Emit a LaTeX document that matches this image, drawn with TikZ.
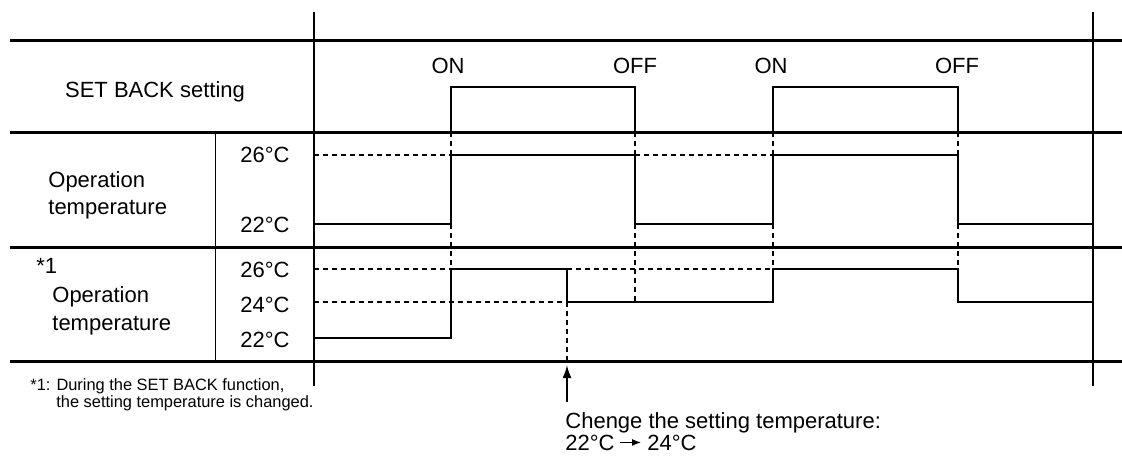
\documentclass[tikz,border=0pt]{standalone}
\usepackage{fontspec}
\setmainfont{Liberation Sans}
\usetikzlibrary{arrows.meta}
\tikzset{
  rowline/.style={line width=1.5pt},
  colline/.style={line width=1pt},
  sig/.style={line width=1pt},
  guide/.style={line width=1pt,dash pattern=on 2.5pt off 2pt},
  lbl/.style={inner sep=0pt,font=\fontsize{11}{13}\selectfont},
  note/.style={inner sep=0pt,font=\fontsize{8.2}{10}\selectfont},
}
\begin{document}
\begin{tikzpicture}[x=0.5pt,y=-0.5pt]
	\useasboundingbox (0,0) rectangle (1122,457);
	% table
	\draw[rowline] (10,40) -- (1122,40);
	\draw[rowline] (10,132) -- (1122,132);
	\draw[rowline] (10,247) -- (1122,247);
	\draw[rowline] (10,361) -- (1122,361);
	\draw[colline] (314,12) -- (314,386);
	\draw[colline] (1093,12) -- (1093,386);
	\draw[line width=0.5pt] (215,132) -- (215,361);
	% guides
	\draw[guide] (314,155) -- (451,155);
	\draw[guide] (635,155) -- (773,155);
	\draw[guide] (314,269) -- (451,269);
	\draw[guide] (567,269) -- (773,269);
	\draw[guide] (314,302) -- (567,302);
	\draw[guide] (451,132) -- (451,155) (451,224) -- (451,269);
	\draw[guide] (635,132) -- (635,155) (635,224) -- (635,302);
	\draw[guide] (773,132) -- (773,155) (773,224) -- (773,269);
	\draw[guide] (958,132) -- (958,155) (958,224) -- (958,269);
	\draw[guide] (567,302) -- (567,365);
	% signals
	\draw[sig] (451,132) -- (451,87) -- (635,87) -- (635,132);
	\draw[sig] (773,132) -- (773,87) -- (958,87) -- (958,132);
	\draw[sig] (314,224) -- (451,224) -- (451,155) -- (635,155) -- (635,224)
		-- (773,224) -- (773,155) -- (958,155) -- (958,224) -- (1093,224);
	\draw[sig] (314,338) -- (451,338) -- (451,269) -- (567,269) -- (567,302)
		-- (773,302) -- (773,269) -- (958,269) -- (958,302) -- (1093,302);
	% labels
	\node[lbl,anchor=base] (setback) at (155,97) {SET BACK setting};
	\node[lbl,anchor=base] (on1) at (448,73) {ON};
	\node[lbl,anchor=base] (off1) at (635,73) {OFF};
	\node[lbl,anchor=base] (on2) at (771,73) {ON};
	\node[lbl,anchor=base] (off2) at (957,73) {OFF};
	\node[lbl,anchor=base west] (opA) at (48,187) {Operation};
	\node[lbl,anchor=base west] (tempA) at (48,214) {temperature};
	\node[lbl,anchor=base] (hiA) at (265,162) {26°C};
	\node[lbl,anchor=base] (loA) at (265,232) {22°C};
	\node[lbl,anchor=base west] (star) at (36,273) {*1};
	\node[lbl,anchor=base west] (opB) at (52,302) {Operation};
	\node[lbl,anchor=base west] (tempB) at (52,330) {temperature};
	\node[lbl,anchor=base] (hiB) at (265,277) {26°C};
	\node[lbl,anchor=base] (midB) at (265,312) {24°C};
	\node[lbl,anchor=base] (loB) at (265,347) {22°C};
	% notes
	\node[note,anchor=base west] (fnA) at (30,390) {*1: During the SET BACK function,};
	\node[note,anchor=base west] (fnB) at (56,407) {the setting temperature is changed.};
	\coordinate (tail) at (567,402);
	\draw[line width=1pt,-{Latex[length=6.5pt,width=4.5pt]}] (tail) -- (567,365);
	\node[lbl,anchor=base west] (chg) at (565,428) {Chenge the setting temperature:};
	\node[lbl,anchor=base west] (from) at (565,450) {22°C};
	\node[lbl,anchor=base west] (to) at (647,450) {24°C};
	\draw[line width=0.6pt,-{Latex[length=4.5pt,width=3.5pt]}] (from.east) ++(5,0) coordinate (fr) (fr) -- ([xshift=-3]to.west);
\end{tikzpicture}
\end{document}
